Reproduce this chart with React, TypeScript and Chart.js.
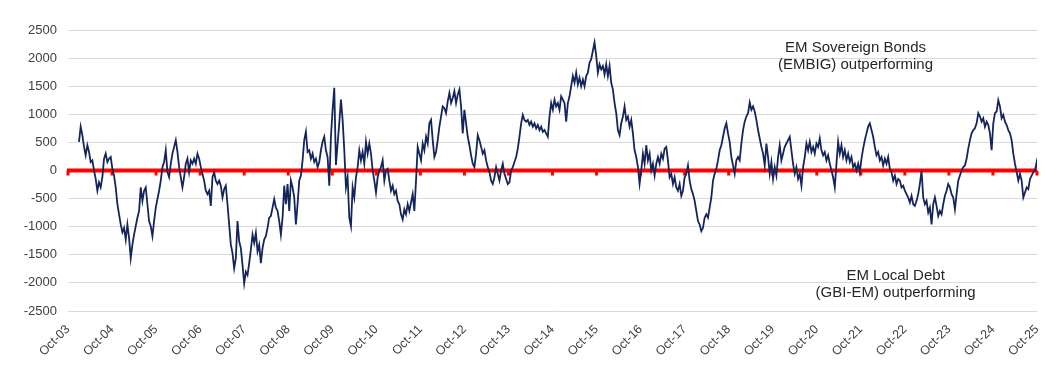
import React, { useEffect, useRef } from 'react';
import { Chart, registerables } from 'chart.js';

Chart.register(...registerables);

// X-axis tick labels (one per October, Oct-03 .. Oct-25)
const tickLabels = [
  'Oct-03', 'Oct-04', 'Oct-05', 'Oct-06', 'Oct-07', 'Oct-08', 'Oct-09', 'Oct-10',
  'Oct-11', 'Oct-12', 'Oct-13', 'Oct-14', 'Oct-15', 'Oct-16', 'Oct-17', 'Oct-18',
  'Oct-19', 'Oct-20', 'Oct-21', 'Oct-22', 'Oct-23', 'Oct-24', 'Oct-25',
];

// Series sampling: starts Jan-04 (0.25 years after Oct-03), ~biweekly samples
const START_YEARS_AFTER_OCT03 = 0.25;
const SAMPLES_PER_YEAR = 26.4;

// Relative performance EMBIG vs GBI-EM (bp)
const spread2004_2007 = [
  510, 780, 630, 420, 270, 450, 330, 150, 180, 0,
  -150, -360, -210, -300, -120, 210, 300, 150, 210, 240,
  30, -90, -300, -600, -780, -960, -1100, -1020, -1230, -960,
  -1200, -1560, -1320, -1140, -990, -840, -720, -300, -540, -360,
  -300, -600, -900, -990, -1170, -900, -660, -510, -360, -180,
  60, 150, 360, -30, -120, 120, 300, 420, 540, 330,
  60, -120, -300, -120, 120, 210, -30, 180, 120, 210,
  120, 300, 210, 60, -60, -180, -360, -420, -360, -630,
  -120, -30, -180, -240, -180, -270, -480, -330,
];

const spread2007_2011 = [
  -270, -600, -960, -1320, -1470, -1740, -1560, -900, -1260, -1380,
  -1680, -2010, -1800, -1860, -1650, -1410, -1140, -1290, -1110, -1440,
  -1320, -1650, -1380, -1230, -1170, -1020, -840, -810, -660, -510,
  -660, -720, -900, -1140, -840, -270, -600, -240, -720, -180,
  -300, -480, -960, -600, -180, -90, 180, 540, 690, 330,
  360, 210, 300, 150, 210, 60, 150, 360, 510, 600,
  360, 240, -270, 600, 1080, 1470, 100, 480, 840, 1260,
  900, 360, -300, -120, -840, -990, -300, -480, -120, 60,
  360, 180, 330, 120, 510, 300, 480, 300, 0, -180,
  -390, -120, 0, 60, 180, -180, 0,
];

const spread2011_2014 = [
  30, -180, -360, -270, -420, -360, -540, -600, -780, -870,
  -690, -780, -600, -720, -570, -420, -720, -180, 420, 300,
  180, 480, 360, 600, 480, 840, 900, 540, 240, 330,
  540, 780, 960, 1140, 1110, 1020, 1230, 1380, 1200, 1290,
  1410, 1200, 1350, 1440, 1140, 660, 1080, 840, 600, 450,
  270, 120, 60, 300, 630, 540, 420, 300, 360, 180,
  60, -30, -180, -240, -120, 60, -60, -180, 0, 120,
  -60, -150, -240, -210, 0, 60, 150, 240, 390, 600,
  840, 990, 900, 870, 900, 810, 870, 780, 840, 750,
  810, 720, 780, 690, 720, 660, 600, 960,
];

const spread2014_2018 = [
  1200, 1080, 1260, 1140, 1200, 1080, 1320, 1260, 1200, 870,
  1200, 1320, 1500, 1680, 1560, 1740, 1530, 1650, 1500, 1620,
  1500, 1680, 1740, 1920, 1980, 2130, 2280, 2040, 1740, 1890,
  1800, 1860, 1710, 1890, 1680, 1860, 1560, 1440, 1200, 1020,
  720, 630, 840, 960, 1140, 900, 960, 780, 900, 660,
  360, 240, 60, -240, 0, 300, 120, 450, 180, 300,
  0, 120, -90, 120, 240, 120, 300, 210, 390, 420,
  180, -120, -60, -240, -120, -300, -360, -240, -450, -360,
  -120, -60, 90, -180, -330, -420, -540, -720, -900, -960,
  -1080, -1020, -840, -780, -840, -660, -480,
];

const spread2018_2021 = [
  -180, -60, 30, 180, 360, 450, 600, 750, 840, 660,
  510, 240, 90, -60, 180, 240, 180, 480, 720, 870,
  960, 1020, 1210, 1080, 1140, 1050, 900, 720, 570, 420,
  300, 90, 480, 240, -60, 150, -150, 60, -90, 240,
  450, 180, 300, 420, 480, 540, 600, 360, 120, -60,
  60, -150, -60, -270, 60, 240, 480, 360, 510, 330,
  420, 300, 480, 420, 570, 360, 270, 330, 180, 270,
  120, 0, -120, -300, 120, 510, 300, 450, 240, 360,
  180, 300, 150, 240, 60, 120, 0, 120, -30, 210,
  390, 540, 660, 780, 840, 720, 600,
];

const spread2021_2025 = [
  420, 270, 330, 180, 240, 90, 210, 120, 240, 30,
  -30, -180, -90, -240, -150, -180, -300, -270, -360, -420,
  -480, -570, -450, -600, -630, -540, -420, -240, 0, -480,
  -600, -540, -750, -660, -960, -600, -480, -630, -810, -720,
  -780, -600, -450, -360, -240, -300, -420, -480, -690, -420,
  -180, -90, 0, 60, 90, 210, 390, 540, 660, 720,
  750, 840, 1020, 960, 870, 930, 780, 870, 810, 660,
  360, 840, 1020, 1050, 1250, 1140, 930, 990, 870, 810,
  720, 660, 540, 300, 120, -30, -180, -60, -180, -480,
  -390, -300, -330, -150, -90, -30, 0, 150, -30,
];

const annotationLabels = [
  { lines: ['EM Sovereign Bonds', '(EMBIG) outperforming'], atYear: 17.88, atValue: 2190 },
  { lines: ['EM Local Debt', '(GBI-EM) outperforming'], atYear: 18.79, atValue: -1878 },
];

const FONT = '"Liberation Sans", Arial, sans-serif';
const TEXT_COLOR = '#404040';

const zeroAxisPlugin = {
  id: 'zeroAxis',
  beforeDatasetsDraw(chart: any) {
    const { ctx, chartArea, scales } = chart;
    const x = scales.x;
    const y = scales.y;
    const y0 = y.getPixelForValue(0);
    ctx.save();
    ctx.fillStyle = '#ff0000';
    ctx.fillRect(chartArea.left - 1, y0 - 2, chartArea.right - chartArea.left + 1, 4);
    x.ticks.forEach((t: any) => {
      const px = x.getPixelForValue(t.value);
      ctx.fillRect(px - 1.5, y0, 3, 5);
    });
    ctx.restore();
  },
};

const annotationPlugin = {
  id: 'textNotes',
  afterDraw(chart: any) {
    const { ctx, scales } = chart;
    ctx.save();
    ctx.font = `15px ${FONT}`;
    ctx.fillStyle = '#262626';
    ctx.textAlign = 'center';
    ctx.textBaseline = 'middle';
    annotationLabels.forEach((a) => {
      const px = scales.x.getPixelForValue(a.atYear);
      const py = scales.y.getPixelForValue(a.atValue);
      a.lines.forEach((line, i) => ctx.fillText(line, px, py + i * 17));
    });
    ctx.restore();
  },
};

export default function App() {
  const canvasRef = useRef<HTMLCanvasElement | null>(null);

  useEffect(() => {
    const values = [
      ...spread2004_2007,
      ...spread2007_2011,
      ...spread2011_2014,
      ...spread2014_2018,
      ...spread2018_2021,
      ...spread2021_2025,
    ];
    const points = values.map((v, i) => ({ x: START_YEARS_AFTER_OCT03 + i / SAMPLES_PER_YEAR, y: v }));

    const chart = new Chart(canvasRef.current as HTMLCanvasElement, {
      type: 'line',
      data: {
        datasets: [
          {
            data: points,
            borderColor: '#14255c',
            borderWidth: 1.8,
            pointRadius: 0,
            tension: 0,
            fill: false,
          },
        ],
      },
      options: {
        animation: false,
        responsive: false,
        maintainAspectRatio: false,
        layout: { padding: { top: 30, right: 27, bottom: 0, left: 0 } },
        plugins: { legend: { display: false }, tooltip: { enabled: false } },
        scales: {
          x: {
            type: 'linear',
            min: 0,
            max: tickLabels.length - 1,
            grid: { display: false },
            border: { display: false },
            afterFit: (s: any) => { s.height = 71; },
            ticks: {
              stepSize: 1,
              autoSkip: false,
              maxTicksLimit: 100,
              maxRotation: 45,
              minRotation: 45,
              padding: 3,
              color: TEXT_COLOR,
              font: { family: FONT, size: 12.5 },
              callback: (v: any) => tickLabels[Math.round(Number(v))] ?? '',
            },
          },
          y: {
            min: -2500,
            max: 2500,
            border: { display: false },
            grid: { color: '#d9d9d9', lineWidth: 1, drawTicks: false },
            afterFit: (s: any) => { s.width = 68; },
            ticks: {
              stepSize: 500,
              padding: 11,
              color: TEXT_COLOR,
              font: { family: FONT, size: 13 },
              callback: (v: any) => String(v),
            },
          },
        },
      },
      plugins: [zeroAxisPlugin, annotationPlugin],
    });
    return () => chart.destroy();
  }, []);

  return (
    <div style={{ position: 'absolute', left: 0, top: 0, width: 1064, height: 382, background: '#fff' }}>
      <canvas ref={canvasRef} width={1064} height={382} style={{ display: 'block' }} />
    </div>
  );
}
